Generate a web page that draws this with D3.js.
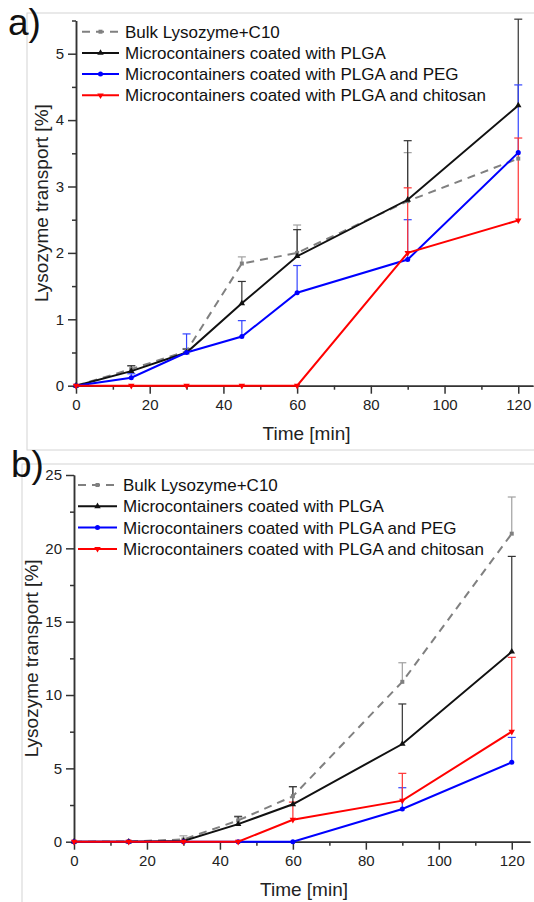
<!DOCTYPE html>
<html lang="en">
<head>
<meta charset="UTF-8">
<title>Lysozyme transport</title>
<script src="https://cdn.jsdelivr.net/npm/d3@7"></script>
<style>
  body { margin: 0; background: #fff; }
  svg { display: block; font-family: "Liberation Sans", Arial, sans-serif; }
  .tick text { font-size: 15px; fill: #222; }
  .axis path, .axis line { stroke: #333; stroke-width: 1.5; }
  .ttl { font-size: 19px; fill: #222; }
  .leg text { font-size: 17px; fill: #111; }
</style>
</head>
<body>
<svg id="chart" width="534" height="902"></svg>
<script>
// shared x values (minutes)
const times = [0, 15, 30, 45, 60, 90, 120]
const names = [
  'Bulk Lysozyme+C10',
  'Microcontainers coated with PLGA',
  'Microcontainers coated with PLGA and PEG',
  'Microcontainers coated with PLGA and chitosan'
]
const xTicks = [0, 20, 40, 60, 80, 100, 120]

// panel a
const bulkA = [0, 0.25, 0.52, 1.84, 2.0, 2.78, 3.42]
const bulkAErr = [0, 0.05, 0.04, 0.1, 0.42, 0.73, 0]
const plgaA = [0, 0.22, 0.5, 1.24, 1.95, 2.8, 4.22]
const plgaAErr = [0, 0.08, 0.05, 0.33, 0.4, 0.89, 1.3]
const pegA = [0, 0.12, 0.5, 0.74, 1.4, 1.9, 3.51]
const pegAErr = [0, 0.06, 0.28, 0.24, 0.41, 0.6, 1.02]
const chitA = [0, 0, 0, 0, 0, 2.0, 2.49]
const chitAErr = [0, 0, 0, 0, 0, 0.98, 1.24]
const yTicksA = [0, 1, 2, 3, 4, 5]

// panel b
const bulkB = [0, 0.02, 0.15, 1.45, 3.1, 10.9, 21.0]
const bulkBErr = [0, 0, 0.25, 0.3, 0.65, 1.3, 2.5]
const plgaB = [0, 0, 0.05, 1.2, 2.55, 6.66, 12.95]
const plgaBErr = [0, 0, 0, 0.5, 1.2, 2.73, 6.5]
const pegB = [0, 0, 0, 0, 0, 2.23, 5.41]
const pegBErr = [0, 0, 0, 0, 0, 1.45, 1.7]
const chitB = [0, 0, 0, 0, 1.5, 2.8, 7.5]
const chitBErr = [0, 0, 0, 0, 1.2, 1.86, 5.07]
const yTicksB = [0, 5, 10, 15, 20, 25]

const styles = [
  { color: '#808080', err: '#a0a0a0', dash: '8,6', shape: d3.symbolSquare, size: 16 },
  { color: '#111', err: '#333', dash: null, shape: d3.symbolTriangle, size: 18, rot: 0 },
  { color: '#0000ff', err: '#3344ff', dash: null, shape: d3.symbolCircle, size: 20 },
  { color: '#ff0000', err: '#ff3333', dash: null, shape: d3.symbolTriangle, size: 18, rot: 180 }
]

const svg = d3.select('#chart')

function drawPanel(p) {
  const g = svg.append('g')

  // light frame of the panel image
  g.append('rect')
    .attr('x', p.frame[0]).attr('y', p.frame[1])
    .attr('width', 600).attr('height', p.frame[2])
    .attr('fill', 'none').attr('stroke', '#d4d4d4').attr('stroke-width', 1)

  const x = d3.scaleLinear().domain([0, p.xMax]).range(p.xRange)
  const y = d3.scaleLinear().domain([0, p.yMax]).range(p.yRange)

  // axes
  g.append('g').attr('class', 'axis')
    .attr('transform', `translate(0,${p.yRange[0]})`)
    .call(d3.axisBottom(x).tickValues(d3.range(10, 121, 20)).tickSize(4).tickFormat('').tickSizeOuter(0))
  g.append('g').attr('class', 'axis')
    .attr('transform', `translate(0,${p.yRange[0]})`)
    .call(d3.axisBottom(x).tickValues(xTicks).tickSize(8).tickPadding(4).tickSizeOuter(0).tickFormat(d3.format('d')))
    .selectAll('text').attr('dy', '0.85em')

  const minorY = d3.range(p.yMinor, p.yMax + 0.001, p.yMinor * 2)
  g.append('g').attr('class', 'axis')
    .attr('transform', `translate(${p.xRange[0]},0)`)
    .call(d3.axisLeft(y).tickValues(minorY).tickSize(4).tickFormat('').tickSizeOuter(0))
  g.append('g').attr('class', 'axis')
    .attr('transform', `translate(${p.xRange[0]},0)`)
    .call(d3.axisLeft(y).tickValues(p.yTicks).tickSize(8).tickPadding(4).tickSizeOuter(0).tickFormat(d3.format('d')))

  // titles
  g.append('text').attr('class', 'ttl')
    .attr('x', (p.xRange[0] + p.xRange[1]) / 2 + 2).attr('y', p.yRange[0] + 54)
    .attr('text-anchor', 'middle').text('Time [min]')
  g.append('text').attr('class', 'ttl')
    .attr('transform', `translate(${p.yLabelX},${(p.yRange[0] + p.yRange[1]) / 2}) rotate(-90)`)
    .attr('text-anchor', 'middle').text('Lysozyme transport [%]')

  // error bars (upper only)
  p.series.forEach((s, i) => {
    const st = styles[i]
    const eb = g.append('g')
    times.forEach((t, j) => {
      if (!s.err[j]) return
      const cx = x(t), y0 = y(s.vals[j]), y1 = y(s.vals[j] + s.err[j])
      eb.append('line').attr('x1', cx).attr('x2', cx).attr('y1', y0).attr('y2', y1)
        .attr('stroke', st.err).attr('stroke-width', 1.2)
      eb.append('line').attr('x1', cx - 4).attr('x2', cx + 4).attr('y1', y1).attr('y2', y1)
        .attr('stroke', st.err).attr('stroke-width', 1.2)
    })
  })

  // lines + markers
  const line = d3.line().x((d, j) => x(times[j])).y(d => y(d))
  p.series.forEach((s, i) => {
    const st = styles[i]
    g.append('path').datum(s.vals)
      .attr('d', line).attr('fill', 'none')
      .attr('stroke', st.color).attr('stroke-width', 2)
      .attr('stroke-dasharray', st.dash)
    g.append('g').selectAll('path').data(s.vals).join('path')
      .attr('d', d3.symbol().type(st.shape).size(st.size))
      .attr('transform', (d, j) => `translate(${x(times[j])},${y(d)}) rotate(${st.rot || 0})`)
      .attr('fill', st.color)
  })

  // legend
  const leg = g.append('g').attr('class', 'leg')
  names.forEach((n, i) => {
    const st = styles[i]
    const cy = p.legY + i * p.legStep
    leg.append('line').attr('x1', p.legX[0]).attr('x2', p.legX[1]).attr('y1', cy).attr('y2', cy)
      .attr('stroke', st.color).attr('stroke-width', 2).attr('stroke-dasharray', st.dash)
    leg.append('path')
      .attr('d', d3.symbol().type(st.shape).size(st.size))
      .attr('transform', `translate(${(p.legX[0] + p.legX[1]) / 2},${cy}) rotate(${st.rot || 0})`)
      .attr('fill', st.color)
    leg.append('text').attr('x', p.legX[1] + 6).attr('y', cy + 6).text(n)
  })

  // panel letter
  svg.append('text').attr('x', p.letter[0]).attr('y', p.letter[1])
    .attr('font-size', 37).attr('fill', '#111').text(p.label)
}

drawPanel({
  label: 'a)', letter: [8, 35], frame: [27, 13, 437],
  xMax: 124, xRange: [76, 533], yMax: 5.5, yRange: [385.7, 20.5],
  yTicks: yTicksA, yMinor: 0.5, yLabelX: 48,
  legX: [82, 119], legY: 31.7, legStep: 21.2,
  series: [
    { vals: bulkA, err: bulkAErr },
    { vals: plgaA, err: plgaAErr },
    { vals: pegA, err: pegAErr },
    { vals: chitA, err: chitAErr }
  ]
})

drawPanel({
  label: 'b)', letter: [11, 476.5], frame: [22, 464, 500],
  xMax: 125, xRange: [74, 530], yMax: 25, yRange: [841.7, 475],
  yTicks: yTicksB, yMinor: 2.5, yLabelX: 38,
  legX: [78, 117], legY: 485, legStep: 21.3,
  series: [
    { vals: bulkB, err: bulkBErr },
    { vals: plgaB, err: plgaBErr },
    { vals: pegB, err: pegBErr },
    { vals: chitB, err: chitBErr }
  ]
})
</script>
</body>
</html>
